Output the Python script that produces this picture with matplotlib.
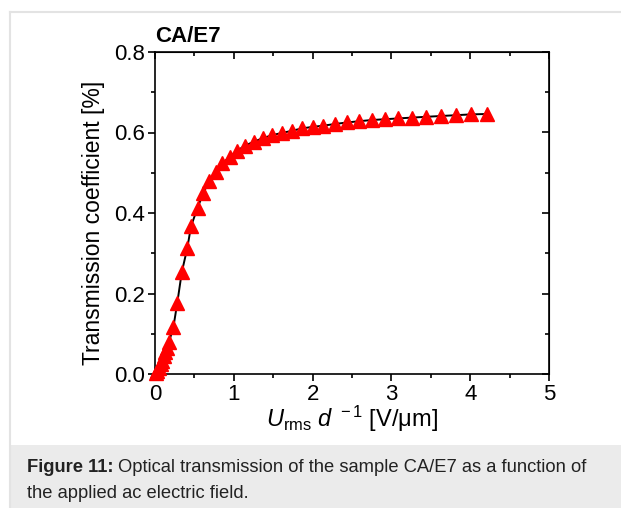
import matplotlib
matplotlib.use("Agg")
import matplotlib.pyplot as plt
from matplotlib.patches import Rectangle
from matplotlib.lines import Line2D
from matplotlib.ticker import MultipleLocator

plt.rcParams['font.family'] = ['Liberation Sans', 'DejaVu Sans']
plt.rcParams['mathtext.fontset'] = 'custom'
plt.rcParams['mathtext.rm'] = 'Liberation Sans'
plt.rcParams['mathtext.it'] = 'Liberation Sans:italic'
plt.rcParams['mathtext.bf'] = 'Liberation Sans:bold'

field = [0.01, 0.03, 0.05, 0.07, 0.09, 0.11, 0.13, 0.15, 0.178, 0.233, 0.283, 0.34,
         0.41, 0.457, 0.54, 0.613, 0.685, 0.77, 0.855, 0.95, 1.045, 1.14, 1.25,
         1.37, 1.48, 1.61, 1.735, 1.86, 2.0, 2.136, 2.28, 2.44, 2.59, 2.75, 2.92,
         3.09, 3.26, 3.44, 3.63, 3.82, 4.01, 4.21]
trans = [0.002, 0.008, 0.015, 0.024, 0.033, 0.044, 0.055, 0.065, 0.080, 0.116, 0.177, 0.253,
         0.313, 0.367, 0.413, 0.449, 0.479, 0.503, 0.523, 0.540, 0.555, 0.567, 0.577,
         0.586, 0.593, 0.599, 0.604, 0.610, 0.614, 0.617, 0.621, 0.625, 0.628, 0.631, 0.633,
         0.635, 0.637, 0.639, 0.641, 0.643, 0.645, 0.646]

fit_x = [0.0] + field
fit_y = [0.0] + trans

W, H = 621, 508
fig = plt.figure(figsize=(W / 100, H / 100), dpi=100)

# frame and caption box
fig.add_artist(Rectangle((10 / W, 0), 1 - 10 / W, (508 - 445) / H, transform=fig.transFigure,
                         facecolor='#ebebeb', edgecolor='none'))
fig.add_artist(Line2D([10 / W, 1], [1 - 12 / H, 1 - 12 / H], transform=fig.transFigure,
                      color='#e3e3e3', lw=1.5))
fig.add_artist(Line2D([10 / W, 10 / W], [0, 1 - 12 / H], transform=fig.transFigure,
                      color='#e3e3e3', lw=1.5))

ax = fig.add_axes([155 / W, 1 - 374 / H, (549 - 155) / W, (374 - 52) / H])
ax.plot(fit_x, fit_y, color='black', lw=1.4, zorder=2)
ax.plot(field, trans, linestyle='none', marker='^', markersize=9.5, color='red',
        markeredgecolor='red', zorder=3, clip_on=False)

ax.set_xlim(0, 5)
ax.set_ylim(0, 0.8)
ax.xaxis.set_major_locator(MultipleLocator(1))
ax.xaxis.set_minor_locator(MultipleLocator(0.5))
ax.yaxis.set_major_locator(MultipleLocator(0.2))
ax.yaxis.set_minor_locator(MultipleLocator(0.1))
ax.set_yticks([0, 0.2, 0.4, 0.6, 0.8])
ax.set_yticklabels(['0.0', '0.2', '0.4', '0.6', '0.8'])
ax.tick_params(which='both', direction='out', labelsize=16, width=1.2, color='black')
ax.tick_params(which='major', length=5, pad=2)
ax.tick_params(which='minor', length=3)
for s in ax.spines.values():
    s.set_linewidth(1.2)

# mirrored inward ticks on top and right
axt = ax.secondary_xaxis('top')
axt.xaxis.set_major_locator(MultipleLocator(1))
axt.xaxis.set_minor_locator(MultipleLocator(0.5))
axt.tick_params(which='both', direction='in', labeltop=False, width=1.2)
axt.tick_params(which='major', length=5)
axt.tick_params(which='minor', length=3)
axr = ax.secondary_yaxis('right')
axr.yaxis.set_major_locator(MultipleLocator(0.2))
axr.yaxis.set_minor_locator(MultipleLocator(0.1))
axr.tick_params(which='both', direction='in', labelright=False, width=1.2)
axr.tick_params(which='major', length=5)
axr.tick_params(which='minor', length=3)

ax.set_xlabel(r'$U_{\mathrm{rms}}\ d^{\ -1}$ [V/' + '\u03bc' + 'm]', fontsize=17, labelpad=-1)
ax.set_ylabel('Transmission coefficient [%]', fontsize=16.5)
ax.yaxis.set_label_coords(-0.127, 0.47)
ax.text(0.0, 1.015, 'CA/E7', transform=ax.transAxes, fontsize=16, fontweight='bold',
        ha='left', va='bottom')

cap_fs = 13.2
t1 = fig.text(27 / W, 1 - 468 / H, 'Figure 11:', fontsize=cap_fs, fontweight='bold',
              va='center', ha='left', color='#222222')
fig.canvas.draw()
bb = t1.get_window_extent()
fig.text((bb.x1 + 4) / W, 1 - 468 / H,
         'Optical transmission of the sample CA/E7 as a function of',
         fontsize=cap_fs, va='center', ha='left', color='#222222')
fig.text(27 / W, 1 - 493 / H, 'the applied ac electric field.', fontsize=cap_fs,
         va='center', ha='left', color='#222222')

fig.savefig('out.png', dpi=100)
